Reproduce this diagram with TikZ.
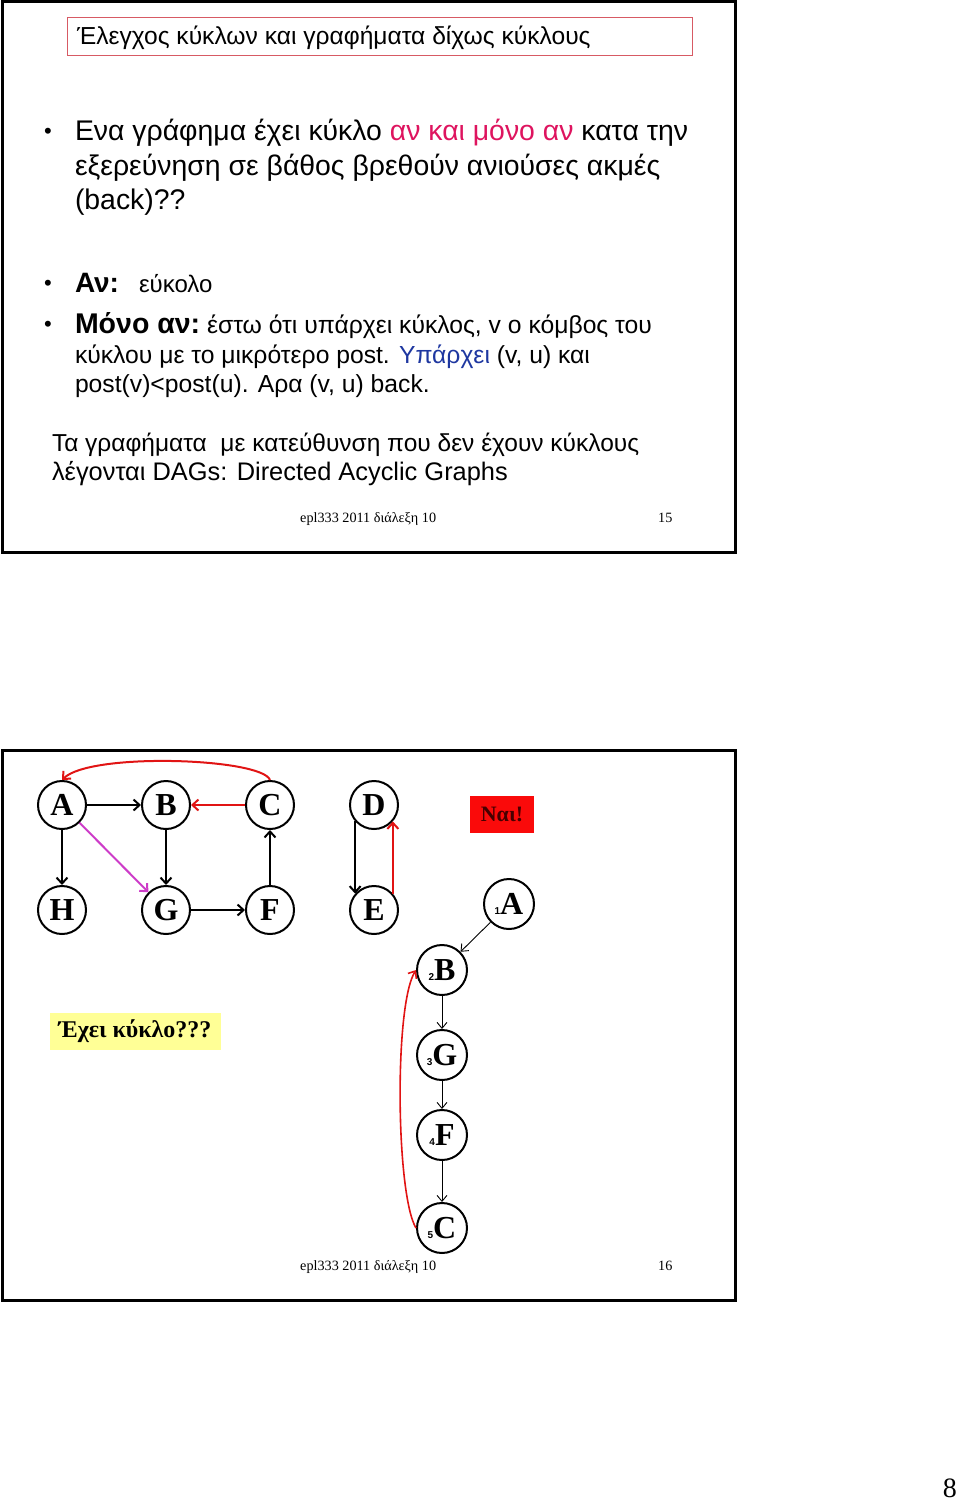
\documentclass[tikz,border=0pt]{standalone}
\usepackage{fontspec}
\setmainfont{Liberation Sans}
\newfontfamily\serf{Liberation Serif}
\newfontfamily\sansf{Liberation Sans}
\usetikzlibrary{arrows.meta}
\definecolor{titlered}{RGB}{215,90,100}
\definecolor{hotpink}{RGB}{222,20,95}
\definecolor{darkblue}{RGB}{30,55,160}
\definecolor{edgered}{RGB}{225,20,20}
\definecolor{magentaedge}{RGB}{205,60,200}
\definecolor{paleyellow}{RGB}{255,255,150}
\definecolor{naired}{RGB}{250,10,10}
\newcommand\grfont{\serf\bfseries\fontsize{32}{32}\selectfont}
\newcommand\numfont{\sansf\fontsize{10}{10}\selectfont}
\begin{document}
\begin{tikzpicture}[x=1pt,y=-1pt,
  txt/.style={anchor=base west, inner sep=0pt, outer sep=0pt},
  big/.style={font=\fontsize{28.4}{28.4}\selectfont},
  mid/.style={font=\fontsize{24.7}{24.7}\selectfont},
  bul/.style={anchor=base west, inner sep=0pt, font=\fontsize{22}{22}\selectfont},
  foot/.style={anchor=base west, inner sep=0pt, font=\serf\fontsize{14.2}{14.2}\selectfont},
  gnode/.style={circle, draw, line width=2pt, minimum size=48pt, inner sep=0pt, font=\grfont},
  tnode/.style={circle, draw, line width=2pt, minimum size=50pt, inner sep=0pt, font=\grfont},
  gedge/.style={line width=2pt, -{Straight Barb[length=6pt,width=11pt]}},
  tedge/.style={line width=0.9pt, -{Straight Barb[length=6pt,width=10pt]}},
  frame/.style={line width=3pt}
]
\useasboundingbox (0,0) rectangle (960,1501);

% ---------- slide 15 ----------
\draw[frame] (2,2) rectangle (735,552);
\node[draw=titlered, line width=1pt, minimum width=625pt, minimum height=38pt, anchor=north west, inner sep=0pt] (titlebox) at (67,17) {};
\node[txt, font=\fontsize{24.6}{24.6}\selectfont] (title) at (77,45) {Έλεγχος κύκλων και γραφήματα δίχως κύκλους};

\node[bul] (b1) at (44,139) {•};
\node[txt, big] (l1) at (75,140) {Ενα γράφημα έχει κύκλο \textcolor{hotpink}{αν και μόνο αν} κατα την};
\node[txt, big] (l2) at (75,175) {εξερεύνηση σε βάθος βρεθούν ανιούσες ακμές};
\node[txt, big] (l3) at (75,209) {(back)??};

\node[bul] (b2) at (44,290) {•};
\node[txt, font=\bfseries\fontsize{28}{28}\selectfont] (l4) at (75,292) {Αν:};
\node[txt, font=\fontsize{24}{24}\selectfont] (l4b) at (139,292) {εύκολο};

\node[bul] (b3) at (44,331) {•};
\node[txt, font=\bfseries\fontsize{28.5}{28.5}\selectfont] (l5) at (75,333) {Μόνο αν:};
\node[txt, mid] (l5b) at (207,333) {έστω ότι υπάρχει κύκλος, v ο κόμβος του};
\node[txt, mid] (l6) at (75,363) {κύκλου με το μικρότερο post. \textcolor{darkblue}{Υπάρχει} (v, u) και};
\node[txt, mid] (l7) at (75,392) {post(v)<post(u). Αρα (v, u) back.};

\node[txt, font=\fontsize{24.5}{24.5}\selectfont] (l8) at (52,451) {Τα γραφήματα\ \ με κατεύθυνση που δεν έχουν κύκλους};
\node[txt, font=\fontsize{25.4}{25.4}\selectfont] (l9) at (52,480) {λέγονται DAGs: Directed Acyclic Graphs};

\node[foot] (f1) at (300,522) {epl333 2011 διάλεξη 10};
\node[foot] (p1) at (658,522) {15};

% ---------- slide 16 ----------
\draw[frame] (2,750) rectangle (735,1300);

\node[gnode] (A) at (62,805) {A};
\node[gnode] (B) at (166,805) {B};
\node[gnode] (C) at (270,805) {C};
\node[gnode] (D) at (374,805) {D};
\node[gnode] (H) at (62,910) {H};
\node[gnode] (G) at (166,910) {G};
\node[gnode] (F) at (270,910) {F};
\node[gnode] (E) at (374,910) {E};

\draw[gedge] (A) -- (B);
\draw[gedge, edgered] (C) -- (B);
\draw[gedge] (A) -- (H);
\draw[gedge] (B) -- (G);
\draw[gedge, magentaedge] (A) -- (G);
\draw[gedge] (G) -- (F);
\draw[gedge] (F) -- (C);
\draw[gedge] (D.221) -- (E.139);
\draw[gedge, edgered] (E.41) -- (D.319);
\draw[gedge, edgered] (C.north) .. controls (262,758) and (90,752) .. (A.north);

\node[fill=naired, minimum width=64pt, minimum height=37pt, inner sep=0pt, text={rgb,255:red,70;green,0;blue,0}, font=\serf\bfseries\fontsize{22}{22}\selectfont] (nai) at (502,814) {Ναι!};

\node[tnode] (tA) at (509,904) {{\numfont 1}A};
\node[tnode] (tB) at (442,970) {{\numfont 2}B};
\node[tnode] (tG) at (442,1055) {{\numfont 3}G};
\node[tnode] (tF) at (442,1135) {{\numfont 4}F};
\node[tnode] (tC) at (442,1228) {{\numfont 5}C};

\draw[tedge] (tA) -- (tB);
\draw[tedge] (tB) -- (tG);
\draw[tedge] (tG) -- (tF);
\draw[tedge] (tF) -- (tC);
\draw[line width=1.6pt, edgered, -{Straight Barb[length=6pt,width=10pt]}] (tC.west) .. controls (396,1195) and (394,1005) .. (tB.west);

\node[fill=paleyellow, minimum width=171pt, minimum height=37pt, inner sep=0pt, font=\serf\bfseries\fontsize{24}{24}\selectfont] (cyc) at (135,1031) {Έχει κύκλο???};

\node[foot] (f2) at (300,1270) {epl333 2011 διάλεξη 10};
\node[foot] (p2) at (658,1270) {16};

\node[anchor=base east, inner sep=0pt, font=\serf\fontsize{28}{28}\selectfont] (pg) at (957,1497) {8};
\end{tikzpicture}
\end{document}
